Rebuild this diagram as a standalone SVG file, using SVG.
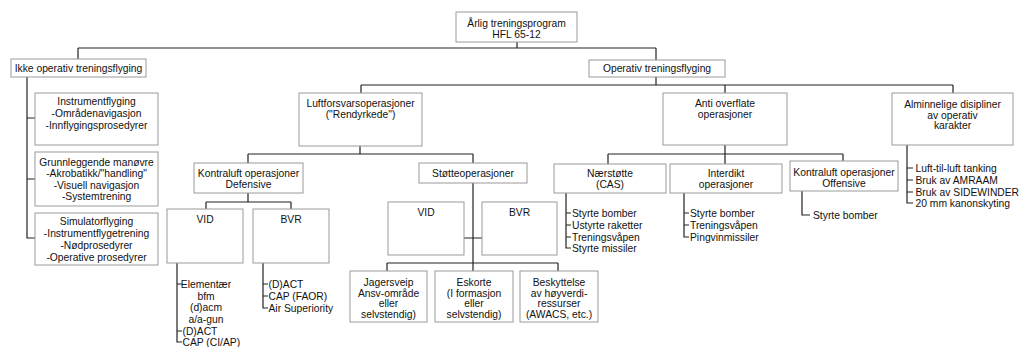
<svg xmlns="http://www.w3.org/2000/svg" width="1020" height="347" viewBox="0 0 1020 347">
<style>
rect.b{fill:#fff;stroke:#9a9a9a;stroke-width:1}
text{font-family:"Liberation Sans",Arial,sans-serif;font-size:10.3px;fill:#111}
text.c{text-anchor:middle}
.con path{fill:none;stroke:#222;stroke-width:1.2}
</style>
<rect width="1020" height="347" fill="#fff"/>
<g class="con">
<path d="M517,42V48M78,48H656M78,48V59M656,48V60"/>
<path d="M656,77V85M361,85H953M361,85V93M725,85V93M953,85V93"/>
<path d="M27,77V238H35M27,118H35M27,179H35"/>
<path d="M360,146V154M248,154H473M248,154V163M473,154V163"/>
<path d="M248,193V202M206,202H291M206,202V209M291,202V209"/>
<path d="M177,263V342H182M177,284H182M177,331H182"/>
<path d="M263,263V308H268M263,284H268M263,296H268"/>
<path d="M473,183V263M387,263H558M387,263V271M558,263V271M473,263V271M464,238H482"/>
<path d="M725,145V164M608,154H843M608,154V164M843,154V162"/>
<path d="M566,193V248H571M566,213H571M566,225H571M566,237H571"/>
<path d="M684,193V237H689M684,213H689M684,225H689"/>
<path d="M802,190V215H810"/>
<path d="M907,145V203H913M907,168H913M907,180H913M907,192H913"/>
</g>
<g id="root"><rect class="b" x="456" y="12" width="121" height="30"/><text class="c" x="516.5" y="26.5">Årlig treningsprogram</text><text class="c" x="516.5" y="38">HFL 65-12</text></g>
<g id="ikke"><rect class="b" x="11" y="59" width="135" height="18"/><text class="c" x="78.5" y="71.5">Ikke operativ treningsflyging</text></g>
<g id="operativ"><rect class="b" x="589" y="60" width="136" height="17"/><text class="c" x="657" y="72">Operativ treningsflyging</text></g>
<g id="instrument"><rect class="b" x="35" y="93" width="123" height="52"/><text class="c" x="96.5" y="104.5">Instrumentflyging</text><text class="c" x="96.5" y="116.5">-Områdenavigasjon</text><text class="c" x="96.5" y="128.5">-Innflygingsprosedyrer</text></g>
<g id="grunnleggende"><rect class="b" x="35" y="152" width="123" height="54"/><text class="c" x="96.5" y="165.5">Grunnleggende manøvre</text><text class="c" x="96.5" y="177">-Akrobatikk/"handling"</text><text class="c" x="96.5" y="188.5">-Visuell navigasjon</text><text class="c" x="96.5" y="200">-Systemtrening</text></g>
<g id="simulator"><rect class="b" x="35" y="213" width="123" height="52"/><text class="c" x="96.5" y="224.5">Simulatorflyging</text><text class="c" x="96.5" y="236.5">-Instrumentflygetrening</text><text class="c" x="96.5" y="248.5">-Nødprosedyrer</text><text class="c" x="96.5" y="260.5">-Operative prosedyrer</text></g>
<g id="luftforsvar"><rect class="b" x="299" y="93" width="123" height="53"/><text class="c" x="360.5" y="106.5">Luftforsvarsoperasjoner</text><text class="c" x="360.5" y="117.5">("Rendyrkede")</text></g>
<g id="anti"><rect class="b" x="663" y="93" width="124" height="52"/><text class="c" x="725" y="106.5">Anti overflate</text><text class="c" x="725" y="117.5">operasjoner</text></g>
<g id="alminnelige"><rect class="b" x="892" y="93" width="121" height="52"/><text class="c" x="952.5" y="108">Alminnelige disipliner</text><text class="c" x="952.5" y="118.5">av operativ</text><text class="c" x="952.5" y="129">karakter</text></g>
<g id="kontraluft-def"><rect class="b" x="194" y="163" width="109" height="30"/><text class="c" x="248.5" y="176.5">Kontraluft operasjoner</text><text class="c" x="248.5" y="187.5">Defensive</text></g>
<g id="vid-def"><rect class="b" x="167" y="209" width="76" height="54"/><text class="c" x="205" y="222.5">VID</text></g>
<g id="bvr-def"><rect class="b" x="253" y="209" width="76" height="54"/><text class="c" x="291" y="222.5">BVR</text></g>
<g id="vid-def-list"><text class="c" x="206" y="287.5">Elementær</text><text class="c" x="206" y="299.5">bfm</text><text class="c" x="206" y="311">(d)acm</text><text class="c" x="206" y="322.5">a/a-gun</text><text x="182.5" y="334.5">(D)ACT</text><text x="182.5" y="345.5">CAP (CI/AP)</text></g>
<g id="bvr-def-list"><text x="268.5" y="287.5">(D)ACT</text><text x="268.5" y="299.5">CAP (FAOR)</text><text x="268.5" y="311.5">Air Superiority</text></g>
<g id="stotte"><rect class="b" x="419" y="163" width="108" height="20"/><text class="c" x="473" y="176.5">Støtteoperasjoner</text></g>
<g id="vid-st"><rect class="b" x="388" y="202" width="76" height="53"/><text class="c" x="426" y="215.5">VID</text></g>
<g id="bvr-st"><rect class="b" x="482" y="202" width="75" height="53"/><text class="c" x="519.5" y="215.5">BVR</text></g>
<g id="jagersveip"><rect class="b" x="350" y="271" width="77" height="51"/><text class="c" x="388.5" y="285.5">Jagersveip</text><text class="c" x="388.5" y="296.5">Ansv-område</text><text class="c" x="388.5" y="307">eller</text><text class="c" x="388.5" y="317.5">selvstendig)</text></g>
<g id="eskorte"><rect class="b" x="435" y="271" width="78" height="51"/><text class="c" x="474" y="285.5">Eskorte</text><text class="c" x="474" y="296.5">(I formasjon</text><text class="c" x="474" y="307">eller</text><text class="c" x="474" y="317.5">selvstendig)</text></g>
<g id="beskyttelse"><rect class="b" x="520" y="271" width="78" height="51"/><text class="c" x="559" y="285.5">Beskyttelse</text><text class="c" x="559" y="296.5">av høyverdi-</text><text class="c" x="559" y="307">ressurser</text><text class="c" x="559" y="317.5">(AWACS, etc.)</text></g>
<g id="naerstotte"><rect class="b" x="554" y="164" width="112" height="29"/><text class="c" x="610" y="176.5">Nærstøtte</text><text class="c" x="610" y="187.5">(CAS)</text></g>
<g id="naerstotte-list"><text x="572" y="216.5">Styrte bomber</text><text x="572" y="228.5">Ustyrte raketter</text><text x="572" y="240.5">Treningsvåpen</text><text x="572" y="251.5">Styrte missiler</text></g>
<g id="interdikt"><rect class="b" x="670" y="164" width="112" height="29"/><text class="c" x="726" y="176.5">Interdikt</text><text class="c" x="726" y="187.5">operasjoner</text></g>
<g id="interdikt-list"><text x="690" y="216.5">Styrte bomber</text><text x="690" y="228.5">Treningsvåpen</text><text x="690" y="240.5">Pingvinmissiler</text></g>
<g id="kontraluft-off"><rect class="b" x="790" y="161" width="108" height="30"/><text class="c" x="844" y="175.5">Kontraluft operasjoner</text><text class="c" x="844" y="186.5">Offensive</text></g>
<g id="kontraluft-off-list"><text x="813" y="218.5">Styrte bomber</text></g>
<g id="alminnelige-list"><text x="915.5" y="171.5">Luft-til-luft tanking</text><text x="915.5" y="183.5">Bruk av AMRAAM</text><text x="915.5" y="195.5">Bruk av SIDEWINDER</text><text x="915.5" y="206.5">20 mm kanonskyting</text></g>
</svg>
